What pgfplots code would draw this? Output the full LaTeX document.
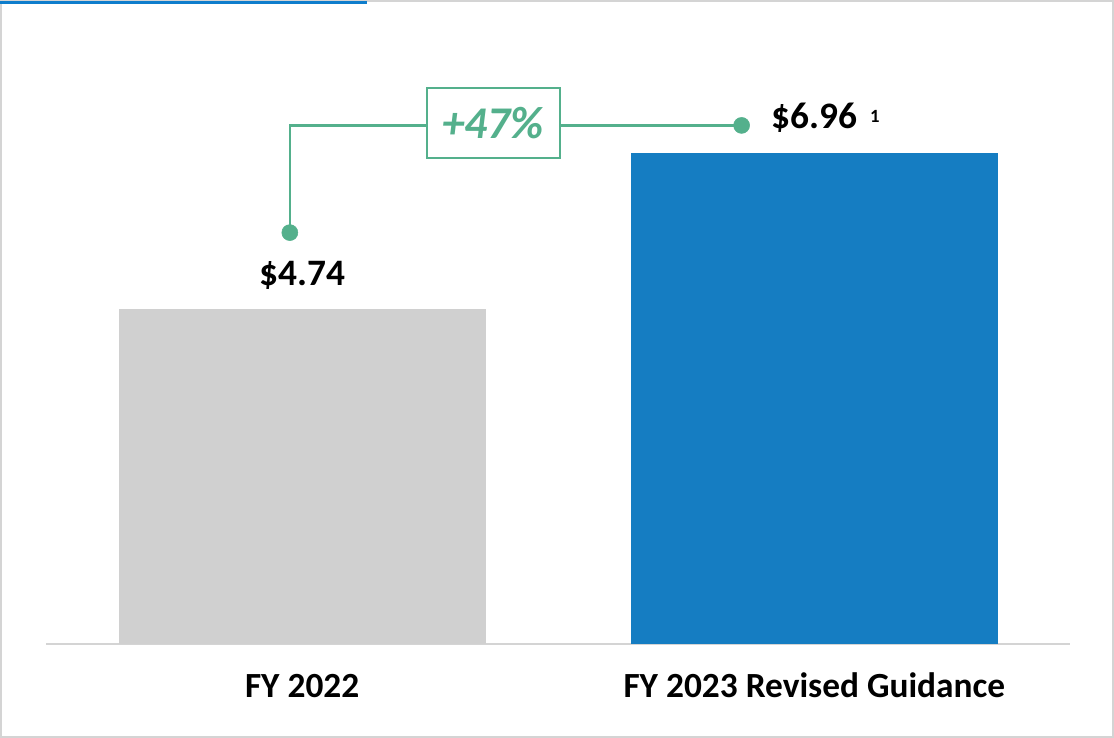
\documentclass[border=0pt]{standalone}
\usepackage{fontspec}
\setmainfont{Carlito}
\usepackage{pgfplots}
\pgfplotsset{compat=1.18}

\definecolor{barblue}{RGB}{21,125,194}
\definecolor{bargray}{RGB}{208,208,208}
\definecolor{accent}{RGB}{84,176,140}
\definecolor{framegray}{RGB}{212,212,212}
\definecolor{topblue}{RGB}{14,125,204}

\begin{document}
\begin{tikzpicture}
% frame of the slide panel (1px = 0.75pt)
\draw[framegray, line width=1.5pt] (0.75pt,0.75pt) rectangle (834.4pt,552.4pt);
\fill[topblue] (0pt,550.5pt) rectangle (275pt,552.75pt);

\begin{axis}[
    at={(34.5pt,70.5pt)}, anchor=south west,
    scale only axis,
    width=768pt, height=423pt,
    xmin=-0.5, xmax=1.5,
    ymin=0, ymax=8,
    axis x line=bottom,
    axis y line=none,
    x axis line style={draw=framegray, line width=1.5pt, -},
    xtick={0,1},
    xticklabels={FY 2022, FY 2023 Revised Guidance},
    major tick length=0pt,
    xticklabel style={anchor=base, yshift=-40.5pt, font=\fontsize{26.5}{30}\selectfont\bfseries},
    clip=false,
]
\addplot[ybar, bar shift=0pt, bar width=275.25pt, fill=bargray, draw=none] coordinates {(0,4.74)};
\addplot[ybar, bar shift=0pt, bar width=275.25pt, fill=barblue, draw=none] coordinates {(1,6.96)};

% growth connector
\addplot[accent, line width=1.8pt] coordinates {(-0.024,5.83) (-0.024,7.35) (0.858,7.35)};
\addplot[only marks, mark=*, mark size=6pt, accent] coordinates {(-0.024,5.83) (0.858,7.35)};
\node[draw=accent, fill=white, line width=1.5pt, minimum width=99.75pt, minimum height=52.5pt,
      text=accent, font=\fontsize{34}{36}\selectfont\bfseries\itshape]
      at (axis cs:0.373,7.38) {+47\%};

% value labels
\node[anchor=base, font=\fontsize{28}{30}\selectfont\bfseries] at (axis cs:0,4.74) [yshift=18pt] {\$4.74};
\node[anchor=base, font=\fontsize{28}{30}\selectfont\bfseries] (v2) at (axis cs:1,6.96) [yshift=18pt] {\$6.96};
\node[anchor=base west, font=\fontsize{14}{16}\selectfont\bfseries, inner sep=0pt] at ([xshift=6pt,yshift=5pt]v2.base east) {1};
\end{axis}
\end{tikzpicture}
\end{document}
